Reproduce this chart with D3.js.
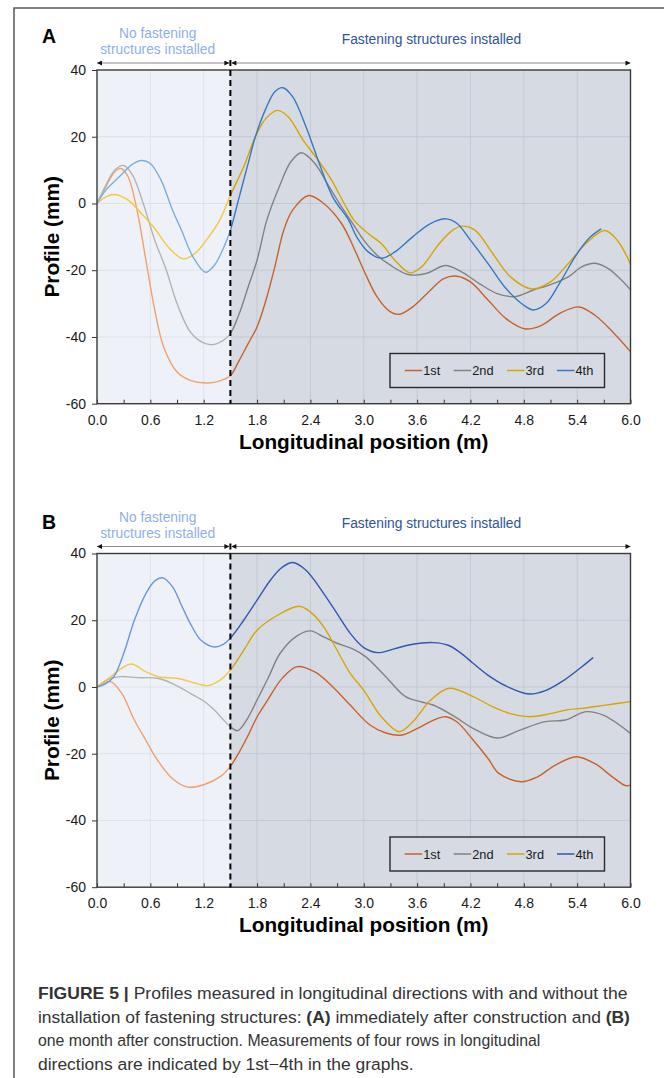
<!DOCTYPE html>
<html>
<head>
<meta charset="utf-8">
<script src="https://cdn.jsdelivr.net/npm/d3@7"></script>
<style>
  body { margin: 0; background: #fff; }
  svg text { font-family: "Liberation Sans", Arial, sans-serif; }
</style>
</head>
<body>
<div id="chart"></div>
<script>
// ---- data (x in m, profile in mm) ----
var seriesNames = ["1st", "2nd", "3rd", "4th"];
var xTicks = [0.0, 0.6, 1.2, 1.8, 2.4, 3.0, 3.6, 4.2, 4.8, 5.4, 6.0];
var yTicks = [-60, -40, -20, 0, 20, 40];
var splitX = 1.5;

// Panel A - immediately after construction
var profA_1st = [[0,0],[0.1,5],[0.2,9.5],[0.27,10.5],[0.35,8],[0.45,-2],[0.55,-17],[0.65,-32],[0.75,-43],[0.9,-50.5],[1.05,-53],[1.25,-53.8],[1.4,-53],[1.5,-51.6],[1.6,-47],[1.7,-42],[1.8,-37],[1.9,-29],[2.0,-19],[2.1,-8],[2.2,-2],[2.38,2.4],[2.55,0],[2.75,-6],[2.9,-14],[3.0,-20],[3.15,-28],[3.3,-32.5],[3.4,-33.2],[3.55,-31],[3.75,-26],[3.9,-22.5],[4.05,-21.8],[4.2,-23.5],[4.4,-29],[4.6,-34.5],[4.82,-37.6],[5.0,-36.5],[5.2,-33],[5.42,-31],[5.6,-33.5],[5.8,-38.5],[6.0,-44.4]];
var profA_2nd = [[0,0],[0.1,5.5],[0.2,10],[0.3,11.4],[0.4,8.5],[0.52,0],[0.65,-11],[0.78,-20],[0.9,-30],[1.05,-38.5],[1.2,-41.8],[1.3,-42.3],[1.42,-41],[1.5,-39],[1.6,-33],[1.7,-25],[1.8,-17],[1.91,-5],[2.05,5],[2.18,12.5],[2.3,15.2],[2.45,12],[2.6,5.5],[2.75,-1],[2.9,-7],[3.0,-11],[3.15,-15.5],[3.3,-18.5],[3.5,-21.3],[3.7,-21],[3.92,-18.6],[4.1,-20.5],[4.3,-24],[4.5,-27],[4.7,-27.9],[4.9,-26],[5.1,-24.3],[5.3,-22],[5.45,-19],[5.6,-17.9],[5.75,-19.5],[5.9,-23],[6.0,-25.9]];
var profA_3rd = [[0,0],[0.1,2],[0.2,2.7],[0.35,1],[0.5,-3],[0.65,-7.5],[0.8,-13],[0.97,-16.6],[1.1,-15],[1.23,-11],[1.38,-5],[1.5,2.4],[1.65,11],[1.78,19.9],[1.9,25.5],[2.03,27.9],[2.15,26],[2.32,18.9],[2.5,12.5],[2.64,6.9],[2.78,0],[2.89,-5],[3.05,-9],[3.2,-12.1],[3.35,-17],[3.52,-20.8],[3.65,-19],[3.85,-12],[4.0,-8],[4.1,-6.8],[4.25,-8],[4.45,-15],[4.65,-22],[4.89,-25.6],[5.1,-23.5],[5.3,-18],[5.5,-12],[5.71,-8.1],[5.85,-11],[6.0,-18.1]];
var profA_4th = [[0,0],[0.1,4],[0.25,8],[0.4,11.8],[0.5,12.9],[0.6,12],[0.72,7],[0.85,-2],[0.95,-8],[1.08,-16],[1.22,-20.6],[1.32,-18.5],[1.42,-13.5],[1.5,-8],[1.6,2],[1.7,12],[1.78,19.9],[1.9,28.5],[2.0,33.5],[2.09,34.7],[2.2,32],[2.35,23],[2.5,12],[2.65,2],[2.83,-5],[2.92,-10],[3.05,-14.5],[3.2,-16.4],[3.35,-14.5],[3.55,-10],[3.75,-6],[3.93,-4.6],[4.05,-6],[4.2,-11],[4.4,-18.1],[4.6,-25.5],[4.8,-30.5],[4.91,-31.9],[5.05,-30],[5.2,-24],[5.4,-15],[5.55,-10],[5.67,-7.6]];

// Panel B - one month after construction
var profB_1st = [[0,0],[0.15,1.6],[0.28,-2],[0.42,-9.9],[0.55,-16],[0.68,-21.9],[0.85,-27.5],[1.02,-30],[1.2,-29.3],[1.39,-26.8],[1.5,-23.8],[1.6,-19.5],[1.69,-15],[1.8,-9],[1.92,-3.9],[2.08,2.5],[2.25,6.1],[2.45,4.5],[2.65,0.1],[2.85,-5.5],[3.07,-11.4],[3.25,-13.8],[3.43,-14.4],[3.6,-12.5],[3.78,-10],[3.92,-8.9],[4.05,-10.5],[4.23,-15.9],[4.4,-21.5],[4.52,-25.9],[4.77,-28.4],[4.95,-27],[5.15,-23.5],[5.39,-20.9],[5.6,-23],[5.8,-27],[5.95,-29.6],[6.0,-29.3]];
var profB_2nd = [[0,0],[0.1,2],[0.26,3.1],[0.45,2.8],[0.68,2.6],[0.85,1],[1.05,-1.9],[1.2,-4.2],[1.32,-6.9],[1.42,-9.8],[1.5,-11.9],[1.58,-13.1],[1.68,-10],[1.8,-3.9],[1.93,3],[2.06,10.1],[2.25,15.3],[2.4,16.8],[2.55,15],[2.7,13.1],[2.87,11.5],[3.02,9.1],[3.25,3],[3.47,-2.9],[3.65,-4.5],[3.78,-5.4],[4.0,-8.5],[4.23,-12.4],[4.5,-15.3],[4.75,-13],[5.04,-10.4],[5.27,-9.9],[5.5,-7.4],[5.7,-8.5],[6.0,-13.9]];
var profB_3rd = [[0,0],[0.15,3],[0.38,6.9],[0.55,4.5],[0.7,3],[0.9,2.6],[1.1,1.2],[1.24,0.4],[1.38,2],[1.5,5.1],[1.65,11],[1.8,17],[2.03,21.5],[2.27,24.2],[2.4,22.5],[2.55,18],[2.7,11],[2.85,4],[3.0,-1],[3.2,-9],[3.4,-13.4],[3.55,-10.5],[3.75,-4],[3.96,-0.4],[4.2,-2.5],[4.45,-5.9],[4.65,-8],[4.86,-8.9],[5.1,-8],[5.3,-6.8],[5.46,-6.4],[5.7,-5.5],[6.0,-4.4]];
var profB_4th = [[0,0],[0.1,1],[0.19,3.1],[0.3,10],[0.42,20],[0.55,28],[0.65,31.8],[0.74,32.7],[0.85,30],[0.95,24.5],[1.05,19],[1.17,14],[1.32,12],[1.42,12.8],[1.5,14.6],[1.65,20],[1.8,26],[1.95,32],[2.08,35.8],[2.2,37.3],[2.35,35],[2.55,28],[2.7,22],[2.85,16],[3.0,11.8],[3.16,10.3],[3.35,11.5],[3.55,12.8],[3.78,13.3],[3.95,12.5],[4.1,10],[4.23,7.1],[4.4,3.5],[4.6,0.3],[4.86,-2.1],[5.05,-1],[5.25,2],[5.45,6],[5.58,8.8]];

// colours: dark = fastened part, light = part without fastening
var colA_dark  = ["#c8622a", "#828282", "#daa400", "#3579c2"];
var colA_light = ["#f2a06c", "#b4b4b4", "#f5c83c", "#7aaee0"];
var colB_dark  = ["#cc6128", "#828282", "#daa400", "#2f58b0"];
var colB_light = ["#f0a070", "#b2b2b2", "#f5c842", "#6a96dc"];

var W = 664, H = 1078;
var svg = d3.select("#chart").append("svg")
    .attr("width", W).attr("height", H);

var defs = svg.append("defs");
defs.append("marker")
    .attr("id", "arr")
    .attr("viewBox", "0 0 10 10")
    .attr("refX", 10).attr("refY", 5)
    .attr("markerUnits", "userSpaceOnUse")
    .attr("markerWidth", 6).attr("markerHeight", 5)
    .attr("orient", "auto-start-reverse")
    .append("path").attr("d", "M0,0L10,5L0,10z").attr("fill", "#111");

// outer frame (left + top only visible)
svg.append("path")
    .attr("d", "M14," + H + "V8H" + W)
    .attr("fill", "none").attr("stroke", "#5a5a5a").attr("stroke-width", 1.5);

var plotL = 97, plotR = 630.5, plotH = 333.7;

function drawPanel(id, top, labelBase, series, colDark, colLight) {
    var g = svg.append("g");
    var x = d3.scaleLinear().domain([0, 6]).range([plotL, plotR]);
    var y = d3.scaleLinear().domain([-60, 40]).range([top + plotH, top]);
    var xs = x(splitX);

    // clip regions left / right of the first fastening structure
    defs.append("clipPath").attr("id", id + "L").append("rect")
        .attr("x", plotL).attr("y", top).attr("width", xs - plotL).attr("height", plotH);
    defs.append("clipPath").attr("id", id + "R").append("rect")
        .attr("x", xs).attr("y", top).attr("width", plotR - xs).attr("height", plotH);

    g.append("rect").attr("x", plotL).attr("y", top).attr("width", xs - plotL).attr("height", plotH).attr("fill", "#eef2f8");
    g.append("rect").attr("x", xs).attr("y", top).attr("width", plotR - xs).attr("height", plotH).attr("fill", "#d6dbe3");

    // grid
    [["L", "#dde2ea"], ["R", "#c3c9d2"]].forEach(function(s) {
        var gg = g.append("g").attr("clip-path", "url(#" + id + s[0] + ")")
            .attr("stroke", s[1]).attr("stroke-width", 1);
        gg.selectAll("line.v").data(xTicks.slice(1, -1)).enter().append("line")
            .attr("x1", function(d) { return x(d); }).attr("x2", function(d) { return x(d); })
            .attr("y1", top).attr("y2", top + plotH);
        gg.selectAll("line.h").data(yTicks.slice(1, -1)).enter().append("line")
            .attr("y1", function(d) { return y(d); }).attr("y2", function(d) { return y(d); })
            .attr("x1", plotL).attr("x2", plotR);
    });

    var line = d3.line()
        .x(function(d) { return x(d[0]); })
        .y(function(d) { return y(d[1]); })
        .curve(d3.curveCatmullRom.alpha(0.5));

    [["L", colLight], ["R", colDark]].forEach(function(s) {
        g.append("g").attr("clip-path", "url(#" + id + s[0] + ")")
            .selectAll("path").data(series).enter().append("path")
            .attr("d", line)
            .attr("fill", "none")
            .attr("stroke", function(d, i) { return s[1][i]; })
            .attr("stroke-width", 1.4);
    });

    // axes
    var yAxis = d3.axisLeft(y).tickValues(yTicks).tickSize(5).tickPadding(6)
        .tickFormat(function(d) { return String(d); });
    var ya = g.append("g").attr("transform", "translate(" + plotL + ",0)").call(yAxis);
    var minor = d3.range(0, 6.01, 0.3).map(function(d) { return Math.round(d * 10) / 10; });
    var xAxis = d3.axisBottom(x).tickValues(minor).tickSize(-4).tickPadding(11)
        .tickFormat(function(d) { return (Math.round(d * 10) % 6 === 0) ? d.toFixed(1) : ""; });
    var xa = g.append("g").attr("transform", "translate(0," + (top + plotH) + ")").call(xAxis);
    [ya, xa].forEach(function(a) {
        a.select(".domain").remove();
        a.selectAll("line").attr("stroke", "#333");
        a.selectAll("text").attr("font-size", "14px").attr("fill", "#1a1a1a")
            .attr("font-family", "Liberation Sans, Arial, sans-serif");
    });

    g.append("rect").attr("x", plotL).attr("y", top).attr("width", plotR - plotL).attr("height", plotH)
        .attr("fill", "none").attr("stroke", "#3a3a3a").attr("stroke-width", 1.4);

    // dashed marker of the first fastening structure
    g.append("line").attr("x1", xs).attr("x2", xs).attr("y1", top - 10).attr("y2", top + plotH)
        .attr("stroke", "#000").attr("stroke-width", 2).attr("stroke-dasharray", "6,4");

    // header arrows
    var ay = top - 7;
    g.append("line").attr("x1", plotL).attr("x2", xs - 1).attr("y1", ay).attr("y2", ay)
        .attr("stroke", "#8a8a8a").attr("stroke-width", 1.2)
        .attr("marker-start", "url(#arr)").attr("marker-end", "url(#arr)");
    g.append("line").attr("x1", xs + 1).attr("x2", plotR).attr("y1", ay).attr("y2", ay)
        .attr("stroke", "#8a8a8a").attr("stroke-width", 1.2)
        .attr("marker-start", "url(#arr)").attr("marker-end", "url(#arr)");

    g.append("text").attr("x", 157.7).attr("y", top - 32).attr("text-anchor", "middle")
        .attr("font-size", "13.8px").attr("fill", "#8fb0e6").text("No fastening");
    g.append("text").attr("x", 157.7).attr("y", top - 16).attr("text-anchor", "middle")
        .attr("font-size", "13.8px").attr("fill", "#8fb0e6").text("structures installed");
    g.append("text").attr("x", 431.5).attr("y", top - 26).attr("text-anchor", "middle")
        .attr("font-size", "13.8px").attr("fill", "#2f5597").text("Fastening structures installed");

    g.append("text").attr("x", 42).attr("y", labelBase).attr("font-size", "19.5px")
        .attr("font-weight", "bold").attr("fill", "#000").text(id);

    // axis titles
    g.append("text").attr("x", (plotL + plotR) / 2).attr("y", top + plotH + 45)
        .attr("text-anchor", "middle").attr("font-size", "20.8px").attr("font-weight", "bold")
        .attr("fill", "#000").text("Longitudinal position (m)");
    g.append("text").attr("transform", "translate(59," + (top + plotH / 2) + ") rotate(-90)")
        .attr("text-anchor", "middle").attr("font-size", "20.8px").attr("font-weight", "bold")
        .attr("fill", "#000").text("Profile (mm)");

    // legend
    var lgY = top + 283.5;
    g.append("rect").attr("x", 390).attr("y", lgY).attr("width", 214.5).attr("height", 34)
        .attr("fill", "#d6dbe3").attr("stroke", "#2a2a2a").attr("stroke-width", 1.4);
    var lgX = [404.7, 453.7, 507, 557];
    var lg = g.selectAll("g.lg").data(seriesNames).enter().append("g");
    lg.append("line")
        .attr("x1", function(d, i) { return lgX[i]; })
        .attr("x2", function(d, i) { return lgX[i] + 17.5; })
        .attr("y1", lgY + 17).attr("y2", lgY + 17)
        .attr("stroke", function(d, i) { return colDark[i]; }).attr("stroke-width", 1.5);
    lg.append("text")
        .attr("x", function(d, i) { return lgX[i] + 18.5; })
        .attr("y", lgY + 21.5)
        .attr("font-size", "12.8px").attr("fill", "#1a1a1a")
        .text(function(d) { return d; });
}

drawPanel("A", 70, 42.7, [profA_1st, profA_2nd, profA_3rd, profA_4th], colA_dark, colA_light);
drawPanel("B", 553.5, 529.3, [profB_1st, profB_2nd, profB_3rd, profB_4th], colB_dark, colB_light);

// caption: each line squeezed to the width it has in the figure
var capLines = [
    [["FIGURE 5 | ", true], ["Profiles measured in longitudinal directions with and without the", false]],
    [["installation of fastening structures: ", false], ["(A)", true], [" immediately after construction and ", false], ["(B)", true]],
    [["one month after construction. Measurements of four rows in longitudinal", false]],
    [["directions are indicated by 1st\u22124th in the graphs.", false]]
];
var capWidths = [590, 592, 503, 376];
var capBase = [999, 1022.5, 1046, 1069.5];
capLines.forEach(function(parts, i) {
    var t = svg.append("text")
        .attr("font-size", "16.5px").attr("fill", "#333")
        .style("font-family", "'Liberation Sans Narrow', 'Liberation Sans', Arial, sans-serif");
    parts.forEach(function(p) {
        t.append("tspan").attr("font-weight", p[1] ? "bold" : "normal").text(p[0]);
    });
    var w = t.node().getComputedTextLength();
    t.attr("transform", "translate(38," + capBase[i] + ") scale(" + (capWidths[i] / w) + ",1)");
});
</script>
</body>
</html>
